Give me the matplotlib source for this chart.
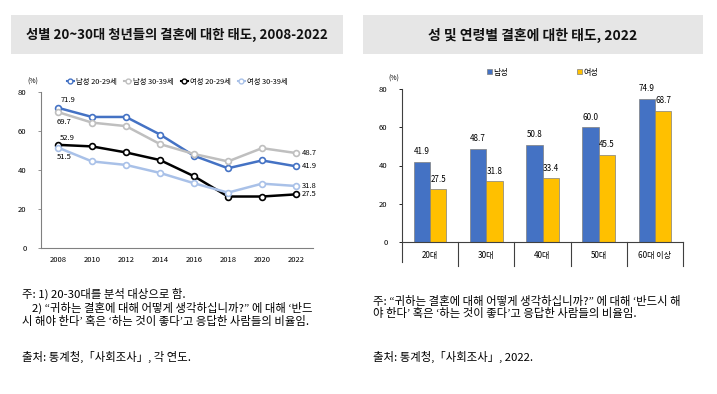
import matplotlib
matplotlib.use("Agg")
import matplotlib.pyplot as plt
from matplotlib.patches import Rectangle
from matplotlib.lines import Line2D

plt.rcParams['font.family'] = ['Noto Sans CJK KR', 'DejaVu Sans']

W, H = 717, 394

# --- Dữ liệu biểu đồ trái (đường) ---
years = [2008, 2010, 2012, 2014, 2016, 2018, 2020, 2022]
male_20s = [71.9, 67.2, 67.2, 58.2, 47.3, 40.9, 44.9, 41.9]
male_30s = [69.7, 64.3, 62.5, 53.3, 48.2, 44.4, 51.2, 48.7]
female_20s = [52.9, 52.1, 49.0, 45.1, 36.8, 26.4, 26.4, 27.5]
female_30s = [51.5, 44.4, 42.6, 38.5, 33.2, 28.4, 33.0, 31.8]
line_names = ['남성 20-29세', '남성 30-39세', '여성 20-29세', '여성 30-39세']
line_colors = ['#4472C4', '#BFBFBF', '#000000', '#A9C1E8']

# --- Dữ liệu biểu đồ phải (cột) ---
age_groups = ['20대', '30대', '40대', '50대', '60대 이상']
male_2022 = [41.9, 48.7, 50.8, 60.0, 74.9]
female_2022 = [27.5, 31.8, 33.4, 45.5, 68.7]
bar_names = ['남성', '여성']
bar_colors = ['#4472C4', '#FFC000']

title_left = '성별 20~30대 청년들의 결혼에 대한 태도, 2008-2022'
title_right = '성 및 연령별 결혼에 대한 태도, 2022'
notes_left = ['주: 1) 20-30대를 분석 대상으로 함.',
              '    2) “귀하는 결혼에 대해 어떻게 생각하십니까?” 에 대해 ‘반드',
              '시 해야 한다’ 혹은 ‘하는 것이 좋다’고 응답한 사람들의 비율임.']
source_left = '출처: 통계청,「사회조사」, 각 연도.'
notes_right = ['주: “귀하는 결혼에 대해 어떻게 생각하십니까?” 에 대해 ‘반드시 해',
               '야 한다’ 혹은 ‘하는 것이 좋다’고 응답한 사람들의 비율임.']
source_right = '출처: 통계청,「사회조사」, 2022.'


def px_axes(fig, x0, y0, x1, y1):
    """Tạo axes theo toạ độ pixel (gốc ở góc trên trái)."""
    return fig.add_axes([x0 / W, 1 - y1 / H, (x1 - x0) / W, (y1 - y0) / H])


fig = plt.figure(figsize=(W / 100, H / 100), dpi=100, facecolor='white')

# --- Hộp tiêu đề ---
for (x0, x1, txt, fs) in [(11, 343, title_left, 9.6), (363, 703, title_right, 10)]:
    fig.patches.append(Rectangle((x0 / W, 1 - 54 / H), (x1 - x0) / W, 39 / H,
                                 transform=fig.transFigure, facecolor='#E6E6E6',
                                 edgecolor='none'))
    fig.text((x0 + x1) / 2 / W, 1 - 35 / H, txt, ha='center', va='center',
             fontsize=fs, fontweight='bold', color='#111111')

# --- Biểu đồ đường ---
ax1 = px_axes(fig, 41, 92, 313, 248)
series = [male_20s, male_30s, female_20s, female_30s]
for vals, col, name in zip(series, line_colors, line_names):
    ax1.plot(years, vals, color=col, lw=1.8, marker='o', ms=4.2,
             mfc='white', mec=col, mew=1.2, label=name, zorder=3)
ax1.set_xlim(2007, 2023)
ax1.set_ylim(0, 80)
ax1.set_xticks(years)
ax1.set_yticks([0, 20, 40, 60, 80])
for s in ['top', 'right']:
    ax1.spines[s].set_visible(False)
for s in ['left', 'bottom']:
    ax1.spines[s].set_color('#808080')
    ax1.spines[s].set_linewidth(0.8)
ax1.tick_params(axis='x', length=0, labelsize=5.5, pad=6)
ax1.tick_params(axis='y', length=2.5, width=0.6, color='#808080', labelsize=5.5, pad=8)
ax1.text(-0.01, 1.04, '(%)', transform=ax1.transAxes, fontsize=5, ha='right', va='bottom')

ax1.annotate(f'{male_20s[0]}', (years[0], male_20s[0]), xytext=(2, 3),
             textcoords='offset points', fontsize=5.5, ha='left', va='bottom')
ax1.annotate(f'{male_30s[0]}', (years[0], male_30s[0]), xytext=(-1, -4),
             textcoords='offset points', fontsize=5.5, ha='left', va='top')
ax1.annotate(f'{female_20s[0]}', (years[0], female_20s[0]), xytext=(1, 2),
             textcoords='offset points', fontsize=5.5, ha='left', va='bottom')
ax1.annotate(f'{female_30s[0]}', (years[0], female_30s[0]), xytext=(-1, -4),
             textcoords='offset points', fontsize=5.5, ha='left', va='top')
for vals in series:
    ax1.annotate(f'{vals[-1]}', (years[-1], vals[-1]), xytext=(4, 0),
                 textcoords='offset points', fontsize=5.5, ha='left', va='center')

handles = [Line2D([], [], color=c, lw=1.5, marker='o', ms=3.5, mfc='white', mec=c)
           for c in line_colors]
ax1.legend(handles, line_names, loc='lower center', bbox_to_anchor=(0.5, 1.02),
           ncol=4, frameon=False, fontsize=5.3, handlelength=1.0, handletextpad=0.2,
           columnspacing=1.0, borderaxespad=0)

# --- Biểu đồ cột ---
ax2 = px_axes(fig, 402, 89, 683, 242)
xs = list(range(len(age_groups)))
bw = 0.29
ax2.bar([x - bw / 2 for x in xs], male_2022, width=bw, color=bar_colors[0],
        edgecolor='#7F7F7F', linewidth=0.5, label=bar_names[0])
ax2.bar([x + bw / 2 for x in xs], female_2022, width=bw, color=bar_colors[1],
        edgecolor='#7F7F7F', linewidth=0.5, label=bar_names[1])
for x, m, f in zip(xs, male_2022, female_2022):
    ax2.annotate(f'{m:.1f}', (x - bw / 2, m), xytext=(0, 4), textcoords='offset points',
                 ha='center', va='bottom', fontsize=5.8)
    ax2.annotate(f'{f:.1f}', (x + bw / 2, f), xytext=(0, 4), textcoords='offset points',
                 ha='center', va='bottom', fontsize=5.8)
ax2.set_xlim(-0.5, len(age_groups) - 0.5)
ax2.set_ylim(0, 80)
ax2.set_yticks([0, 20, 40, 60, 80])
ax2.set_xticks([])
for s in ['top', 'right']:
    ax2.spines[s].set_visible(False)
ax2.spines['left'].set_color('#404040')
ax2.spines['bottom'].set_color('#404040')
ax2.spines['left'].set_linewidth(0.8)
ax2.spines['bottom'].set_linewidth(0.8)
ax2.spines['left'].set_bounds(-10.5, 80)
ax2.tick_params(axis='y', length=2.5, width=0.6, labelsize=5.5, pad=8)
ax2.text(-0.01, 1.04, '(%)', transform=ax2.transAxes, fontsize=5, ha='right', va='bottom')
# Nhãn nhóm tuổi và vạch phân cách bên dưới trục
for x, lab in zip(xs, age_groups):
    ax2.text(x, -7, lab, ha='center', va='center', fontsize=5.8)
for x in xs:
    ax2.plot([x + 0.5, x + 0.5], [0, -12.5], color='#404040', lw=0.8, clip_on=False)
ax2.legend(loc='lower center', bbox_to_anchor=(0.5, 1.06), ncol=2, frameon=False,
           fontsize=5.8, handlelength=0.6, handleheight=0.6, handletextpad=0.2,
           columnspacing=8.5, borderaxespad=0)

# --- Chú thích ---
for i, line in enumerate(notes_left):
    fig.text(22 / W, 1 - (294 + i * 13.5) / H, line, fontsize=8.2, va='center', ha='left')
fig.text(22 / W, 1 - 357 / H, source_left, fontsize=8.2, va='center', ha='left')
for i, line in enumerate(notes_right):
    fig.text(373 / W, 1 - (301 + i * 12.5) / H, line, fontsize=8.2, va='center', ha='left')
fig.text(373 / W, 1 - 357 / H, source_right, fontsize=8.2, va='center', ha='left')

fig.savefig('out.png', dpi=100, facecolor='white')
